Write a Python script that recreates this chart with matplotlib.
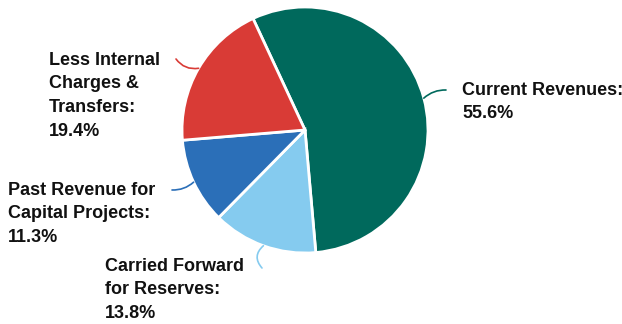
import numpy as np
import matplotlib
matplotlib.use('Agg')
import matplotlib.pyplot as plt

plt.rcParams['font.family'] = ['Liberation Sans', 'DejaVu Sans']

# slice data, clockwise from the top-left
labels = ['Current Revenues:', 'Carried Forward\nfor Reserves:', 'Past Revenue for\nCapital Projects:',
          'Less Internal\nCharges &\nTransfers:']
shares = [55.6, 13.8, 11.3, 19.4]
colors = ['#00695c', '#85cbef', '#2b6fb8', '#d93b36']

W, H = 622, 324
fig = plt.figure(figsize=(W / 100, H / 100), dpi=100)
ax = fig.add_axes([0, 0, 1, 1])

cx, cy, r = 305, H - 130, 123
start = 115
wedges, _ = ax.pie(shares, colors=colors, startangle=start, counterclock=False,
                   center=(cx, cy), radius=r,
                   wedgeprops=dict(edgecolor='white', linewidth=2))

# label anchor (left, top) and leader end point, in pixels from the top-left
text_pos = [(462, 82), (105, 258), (8, 182), (49, 52)]
lead_end = [(446, 90), (262, 268), (172, 190), (176, 59)]
rads = [0.2, -0.5, 0.2, 0.3]

for w, lab, pct, col, tp, le, rad in zip(wedges, labels, shares, colors, text_pos, lead_end, rads):
    mid = np.deg2rad((w.theta1 + w.theta2) / 2)
    ex, ey = cx + r * np.cos(mid), cy + r * np.sin(mid)
    ax.annotate('', xy=(ex, ey), xytext=(le[0], H - le[1]),
                arrowprops=dict(arrowstyle='-', color=col, lw=1.2,
                                connectionstyle='arc3,rad=%s' % rad,
                                shrinkA=0, shrinkB=0))
    ax.text(tp[0], H - tp[1], '%s\n%.1f%%' % (lab, pct), ha='left', va='top',
            fontsize=13, fontweight='bold', color='#111111', linespacing=1.5)

ax.set_xlim(0, W)
ax.set_ylim(0, H)
ax.set_aspect('equal')
ax.axis('off')
fig.savefig('out.png', dpi=100)
